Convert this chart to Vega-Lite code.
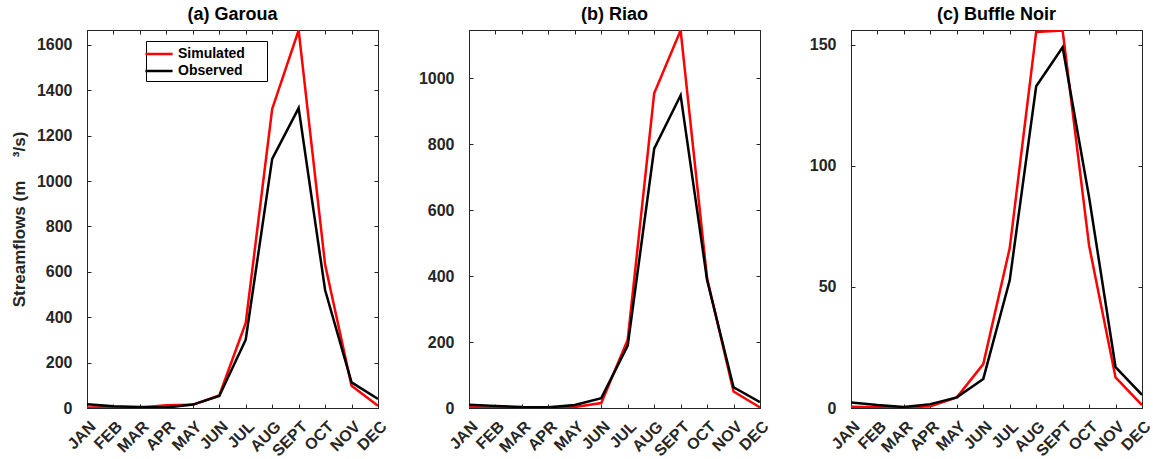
{
  "$schema": "https://vega.github.io/schema/vega-lite/v6.json",
  "padding": {"left": 9, "top": 5, "right": 5, "bottom": 0},
  "background": "white",
  "datasets": {
    "flows": [
      {"site": "a", "series": "Simulated", "month": "JAN", "value": 2},
      {"site": "a", "series": "Simulated", "month": "FEB", "value": 3},
      {"site": "a", "series": "Simulated", "month": "MAR", "value": 2},
      {"site": "a", "series": "Simulated", "month": "APR", "value": 12},
      {"site": "a", "series": "Simulated", "month": "MAY", "value": 14},
      {"site": "a", "series": "Simulated", "month": "JUN", "value": 55},
      {"site": "a", "series": "Simulated", "month": "JUL", "value": 375},
      {"site": "a", "series": "Simulated", "month": "AUG", "value": 1318},
      {"site": "a", "series": "Simulated", "month": "SEPT", "value": 1665},
      {"site": "a", "series": "Simulated", "month": "OCT", "value": 632},
      {"site": "a", "series": "Simulated", "month": "NOV", "value": 98},
      {"site": "a", "series": "Simulated", "month": "DEC", "value": 10},
      {"site": "a", "series": "Observed", "month": "JAN", "value": 17},
      {"site": "a", "series": "Observed", "month": "FEB", "value": 8},
      {"site": "a", "series": "Observed", "month": "MAR", "value": 4},
      {"site": "a", "series": "Observed", "month": "APR", "value": 2},
      {"site": "a", "series": "Observed", "month": "MAY", "value": 15},
      {"site": "a", "series": "Observed", "month": "JUN", "value": 53},
      {"site": "a", "series": "Observed", "month": "JUL", "value": 301},
      {"site": "a", "series": "Observed", "month": "AUG", "value": 1098},
      {"site": "a", "series": "Observed", "month": "SEPT", "value": 1322},
      {"site": "a", "series": "Observed", "month": "OCT", "value": 520},
      {"site": "a", "series": "Observed", "month": "NOV", "value": 113},
      {"site": "a", "series": "Observed", "month": "DEC", "value": 40},
      {"site": "b", "series": "Simulated", "month": "JAN", "value": 2},
      {"site": "b", "series": "Simulated", "month": "FEB", "value": 1},
      {"site": "b", "series": "Simulated", "month": "MAR", "value": 0},
      {"site": "b", "series": "Simulated", "month": "APR", "value": 0},
      {"site": "b", "series": "Simulated", "month": "MAY", "value": 3},
      {"site": "b", "series": "Simulated", "month": "JUN", "value": 15},
      {"site": "b", "series": "Simulated", "month": "JUL", "value": 207},
      {"site": "b", "series": "Simulated", "month": "AUG", "value": 954},
      {"site": "b", "series": "Simulated", "month": "SEPT", "value": 1145},
      {"site": "b", "series": "Simulated", "month": "OCT", "value": 393},
      {"site": "b", "series": "Simulated", "month": "NOV", "value": 50},
      {"site": "b", "series": "Simulated", "month": "DEC", "value": 2},
      {"site": "b", "series": "Observed", "month": "JAN", "value": 10},
      {"site": "b", "series": "Observed", "month": "FEB", "value": 6},
      {"site": "b", "series": "Observed", "month": "MAR", "value": 3},
      {"site": "b", "series": "Observed", "month": "APR", "value": 2},
      {"site": "b", "series": "Observed", "month": "MAY", "value": 9},
      {"site": "b", "series": "Observed", "month": "JUN", "value": 30},
      {"site": "b", "series": "Observed", "month": "JUL", "value": 189},
      {"site": "b", "series": "Observed", "month": "AUG", "value": 786},
      {"site": "b", "series": "Observed", "month": "SEPT", "value": 948},
      {"site": "b", "series": "Observed", "month": "OCT", "value": 388},
      {"site": "b", "series": "Observed", "month": "NOV", "value": 63},
      {"site": "b", "series": "Observed", "month": "DEC", "value": 18},
      {"site": "c", "series": "Simulated", "month": "JAN", "value": 0.5},
      {"site": "c", "series": "Simulated", "month": "FEB", "value": 0.3},
      {"site": "c", "series": "Simulated", "month": "MAR", "value": 0.2},
      {"site": "c", "series": "Simulated", "month": "APR", "value": 0.7},
      {"site": "c", "series": "Simulated", "month": "MAY", "value": 4.4},
      {"site": "c", "series": "Simulated", "month": "JUN", "value": 18.1},
      {"site": "c", "series": "Simulated", "month": "JUL", "value": 66},
      {"site": "c", "series": "Simulated", "month": "AUG", "value": 155.2},
      {"site": "c", "series": "Simulated", "month": "SEPT", "value": 155.8},
      {"site": "c", "series": "Simulated", "month": "OCT", "value": 67},
      {"site": "c", "series": "Simulated", "month": "NOV", "value": 12.6},
      {"site": "c", "series": "Simulated", "month": "DEC", "value": 1.2},
      {"site": "c", "series": "Observed", "month": "JAN", "value": 2.3},
      {"site": "c", "series": "Observed", "month": "FEB", "value": 1.2},
      {"site": "c", "series": "Observed", "month": "MAR", "value": 0.4},
      {"site": "c", "series": "Observed", "month": "APR", "value": 1.6},
      {"site": "c", "series": "Observed", "month": "MAY", "value": 4.4},
      {"site": "c", "series": "Observed", "month": "JUN", "value": 12},
      {"site": "c", "series": "Observed", "month": "JUL", "value": 52.7},
      {"site": "c", "series": "Observed", "month": "AUG", "value": 132.8},
      {"site": "c", "series": "Observed", "month": "SEPT", "value": 148.9},
      {"site": "c", "series": "Observed", "month": "OCT", "value": 87},
      {"site": "c", "series": "Observed", "month": "NOV", "value": 16.9},
      {"site": "c", "series": "Observed", "month": "DEC", "value": 5.4}
    ]
  },
  "config": {
    "font": "Liberation Sans",
    "view": {"stroke": "#262626", "strokeWidth": 1},
    "axis": {
      "domainColor": "#262626",
      "tickColor": "#262626",
      "tickSize": -4,
      "labelFont": "Liberation Sans",
      "labelFontWeight": "bold",
      "labelFontSize": 16,
      "labelColor": "#262626",
      "titleFont": "Liberation Sans",
      "titleFontWeight": "bold",
      "titleFontSize": 17,
      "titleColor": "#262626",
      "grid": false
    },
    "title": {"font": "Liberation Sans", "fontSize": 18, "fontWeight": "bold", "color": "#000000", "offset": 6},
    "legend": {
      "labelFont": "Liberation Sans",
      "labelFontWeight": "bold",
      "labelFontSize": 14,
      "labelColor": "#000000"
    }
  },
  "hconcat": [
    {
      "width": 291, "height": 378,
      "title": "(a) Garoua",
      "layer": [
        {
          "data": {"name": "flows"},
          "transform": [{"filter": "datum.site == 'a' && datum.series == 'Simulated'"}],
          "mark": {"type": "line", "strokeWidth": 2.5, "clip": true},
          "encoding": {
            "x": {"field": "month", "type": "ordinal", "sort": ["JAN","FEB","MAR","APR","MAY","JUN","JUL","AUG","SEPT","OCT","NOV","DEC"], "scale": {"type": "point", "padding": 0}, "axis": {"title": null, "labelAngle": -45, "labelPadding": 14}},
            "y": {"field": "value", "type": "quantitative", "scale": {"domain": [0, 1666], "nice": false}, "axis": {"title": "Streamflows (m\u00a0\u00a0\u00a0\u00a0\u00a0³/s)", "format": "d", "values": [0,200,400,600,800,1000,1200,1400,1600], "labelPadding": 19, "titlePadding": 8}},
            "color": {"field": "series", "type": "nominal", "scale": {"domain": ["Simulated", "Observed"], "range": ["#ff0000", "#000000"]},
              "legend": {"title": "\u00a0", "titleOrient": "right", "titlePadding": 19, "titleFontSize": 14, "orient": "none", "legendX": 59, "legendY": 11, "strokeColor": "#000000", "fillColor": "white", "padding": 3, "symbolType": "M-1.6,0H1.6", "symbolStrokeWidth": 2.5, "symbolSize": 289, "rowPadding": 0, "labelOffset": 9, "offset": 0}}
          }
        },
        {
          "data": {"name": "flows"},
          "transform": [{"filter": "datum.site == 'a' && datum.series == 'Observed'"}],
          "mark": {"type": "line", "strokeWidth": 2.5, "clip": true},
          "encoding": {
            "x": {"field": "month", "type": "ordinal", "sort": ["JAN","FEB","MAR","APR","MAY","JUN","JUL","AUG","SEPT","OCT","NOV","DEC"], "scale": {"type": "point", "padding": 0}, "axis": {"orient": "top", "title": null, "labels": false}},
            "y": {"field": "value", "type": "quantitative", "scale": {"domain": [0, 1666], "nice": false}, "axis": {"orient": "right", "title": null, "labels": false, "values": [0,200,400,600,800,1000,1200,1400,1600]}},
            "color": {"field": "series", "type": "nominal", "scale": {"domain": ["Simulated", "Observed"], "range": ["#ff0000", "#000000"]}}
          }
        }
      ],
      "resolve": {"axis": {"x": "independent", "y": "independent"}}
    },
    {
      "width": 291, "height": 378,
      "title": "(b) Riao",
      "layer": [
        {
          "data": {"name": "flows"},
          "transform": [{"filter": "datum.site == 'b' && datum.series == 'Simulated'"}],
          "mark": {"type": "line", "strokeWidth": 2.5, "clip": true},
          "encoding": {
            "x": {"field": "month", "type": "ordinal", "sort": ["JAN","FEB","MAR","APR","MAY","JUN","JUL","AUG","SEPT","OCT","NOV","DEC"], "scale": {"type": "point", "padding": 0}, "axis": {"title": null, "labelAngle": -45, "labelPadding": 14}},
            "y": {"field": "value", "type": "quantitative", "scale": {"domain": [0, 1146], "nice": false}, "axis": {"title": null, "format": "d", "values": [0,200,400,600,800,1000], "labelPadding": 19}},
            "color": {"field": "series", "type": "nominal", "scale": {"domain": ["Simulated", "Observed"], "range": ["#ff0000", "#000000"]}, "legend": null}
          }
        },
        {
          "data": {"name": "flows"},
          "transform": [{"filter": "datum.site == 'b' && datum.series == 'Observed'"}],
          "mark": {"type": "line", "strokeWidth": 2.5, "clip": true},
          "encoding": {
            "x": {"field": "month", "type": "ordinal", "sort": ["JAN","FEB","MAR","APR","MAY","JUN","JUL","AUG","SEPT","OCT","NOV","DEC"], "scale": {"type": "point", "padding": 0}, "axis": {"orient": "top", "title": null, "labels": false}},
            "y": {"field": "value", "type": "quantitative", "scale": {"domain": [0, 1146], "nice": false}, "axis": {"orient": "right", "title": null, "labels": false, "values": [0,200,400,600,800,1000]}},
            "color": {"field": "series", "type": "nominal", "scale": {"domain": ["Simulated", "Observed"], "range": ["#ff0000", "#000000"]}, "legend": null}
          }
        }
      ],
      "resolve": {"axis": {"x": "independent", "y": "independent"}}
    },
    {
      "width": 291, "height": 378,
      "title": "(c) Buffle Noir",
      "layer": [
        {
          "data": {"name": "flows"},
          "transform": [{"filter": "datum.site == 'c' && datum.series == 'Simulated'"}],
          "mark": {"type": "line", "strokeWidth": 2.5, "clip": true},
          "encoding": {
            "x": {"field": "month", "type": "ordinal", "sort": ["JAN","FEB","MAR","APR","MAY","JUN","JUL","AUG","SEPT","OCT","NOV","DEC"], "scale": {"type": "point", "padding": 0}, "axis": {"title": null, "labelAngle": -45, "labelPadding": 14}},
            "y": {"field": "value", "type": "quantitative", "scale": {"domain": [0, 156], "nice": false}, "axis": {"title": null, "format": "d", "values": [0,50,100,150], "labelPadding": 19}},
            "color": {"field": "series", "type": "nominal", "scale": {"domain": ["Simulated", "Observed"], "range": ["#ff0000", "#000000"]}, "legend": null}
          }
        },
        {
          "data": {"name": "flows"},
          "transform": [{"filter": "datum.site == 'c' && datum.series == 'Observed'"}],
          "mark": {"type": "line", "strokeWidth": 2.5, "clip": true},
          "encoding": {
            "x": {"field": "month", "type": "ordinal", "sort": ["JAN","FEB","MAR","APR","MAY","JUN","JUL","AUG","SEPT","OCT","NOV","DEC"], "scale": {"type": "point", "padding": 0}, "axis": {"orient": "top", "title": null, "labels": false}},
            "y": {"field": "value", "type": "quantitative", "scale": {"domain": [0, 156], "nice": false}, "axis": {"orient": "right", "title": null, "labels": false, "values": [0,50,100,150]}},
            "color": {"field": "series", "type": "nominal", "scale": {"domain": ["Simulated", "Observed"], "range": ["#ff0000", "#000000"]}, "legend": null}
          }
        }
      ],
      "resolve": {"axis": {"x": "independent", "y": "independent"}}
    }
  ],
  "spacing": 91,
  "bounds": "flush",
  "resolve": {"legend": {"color": "independent"}}
}
